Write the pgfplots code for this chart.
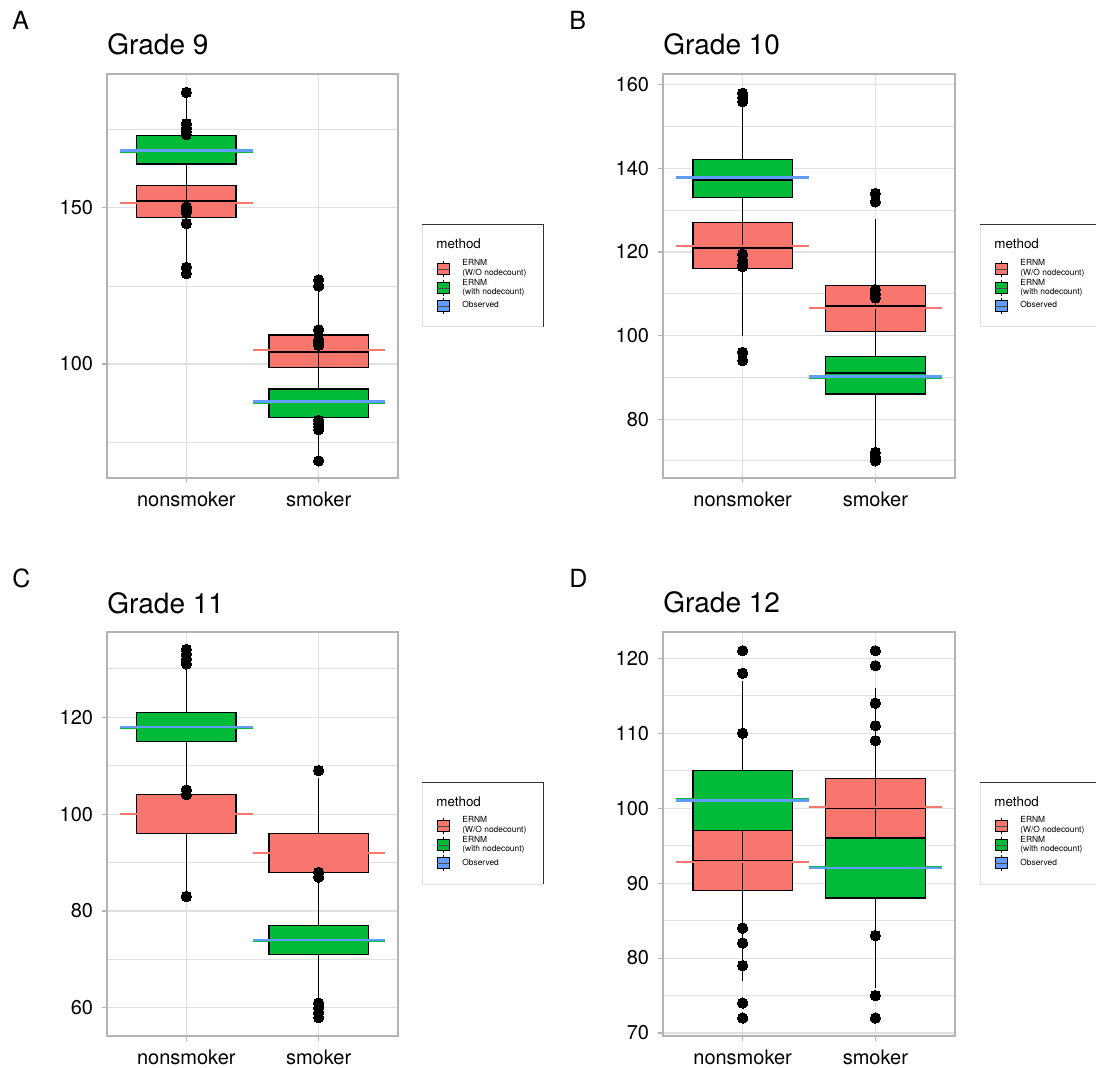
\documentclass[border=0pt]{standalone}
\usepackage{fontspec}
\setmainfont{TeX Gyre Heros}
\usepackage{pgfplots}
\pgfplotsset{compat=1.18}
\definecolor{ernmred}{HTML}{F8766D}
\definecolor{ernmgreen}{HTML}{00BA38}
\definecolor{obsblue}{HTML}{619CFF}
\definecolor{framec}{HTML}{B3B3B3}
\definecolor{gridc}{HTML}{E0E0E0}
\newcommand{\ticfont}{\fontsize{10}{12}\selectfont}
\newcommand{\titfont}{\fontsize{14}{16}\selectfont}
\newcommand{\tagfont}{\fontsize{12.5}{14}\selectfont}
\newcommand{\legtitfont}{\fontsize{6.7}{8}\selectfont}
\newcommand{\legfont}{\fontsize{4.2}{5}\selectfont}
\pgfplotsset{
  panel/.style={
    scale only axis, anchor=south west,
    xmin=0.4, xmax=2.6, xtick={1,2}, xticklabels={nonsmoker,smoker},
    axis line style={draw=framec, line width=0.55pt},
    tick style={draw=framec, line width=0.55pt},
    tick align=outside, tick pos=left, major tick length=2.5pt, minor tick length=0pt,
    grid=both,
    major grid style={draw=gridc, line width=0.55pt},
    minor grid style={draw=gridc, line width=0.4pt},
    /pgf/number format/assume math mode=true,
    ticklabel style={font=\ticfont, text=black},
    yticklabel style={anchor=east, inner sep=0pt, xshift=-4.3pt},
    xticklabel style={anchor=base, inner sep=0pt, yshift=-11.7pt},
    title style={at={(0,1)}, anchor=base west, yshift=3.5pt, inner sep=0pt, font=\titfont},
  },
  hl/.style={draw=#1, line width=0.9pt},
  hlb/.style={draw=obsblue, line width=1.35pt},
  outl/.style={only marks, mark=*, mark size=2.6pt, mark options={draw=black, fill=black, line width=0pt}},
}
% box: #1 colour, #2 position, #3 left, #4 right, #5 lower whisker, #6 Q1, #7 median, #8 Q3, #9 upper whisker
\newcommand{\bxp}[9]{%
  \addplot[black, line width=0.65pt] coordinates {(#2,#5) (#2,#6)};
  \addplot[black, line width=0.65pt] coordinates {(#2,#8) (#2,#9)};
  \addplot[draw=black, fill=#1, line width=0.65pt] coordinates {(#3,#6) (#4,#6) (#4,#8) (#3,#8)} -- cycle;
  \addplot[black, line width=0.95pt] coordinates {(#3,#7) (#4,#7)};}
\newcommand{\legkey}[2]{%
  \draw[black, line width=0.45pt] (21,#2-8.3) -- (21,#2+8.3);
  \draw[black, fill=#1, line width=0.45pt] (15,#2-5.8) rectangle (27,#2+5.8);
  \draw[black!70, line width=0.3pt] (15,#2) -- (27,#2);}
\newcommand{\methodlegend}[2]{%
  \begin{scope}[x=0.5pt, y=-0.5pt, yshift=533.5pt]
  \begin{scope}[shift={(#1,#2)}]
    \draw[gray!25, line width=0.5pt] (0,0) rectangle (121,102);
    \draw[gray!40!black, line width=0.5pt] (0,0) -- (121,0) -- (121,102);
    \node[anchor=base west, inner sep=0pt, font=\legtitfont] at (14,24) {method};
    \legkey{ernmred}{44}
    \legkey{ernmgreen}{63}
    \legkey{obsblue}{81}
    \node[anchor=base west, inner sep=0pt, font=\legfont] at (40,40.7) {ERNM};
    \node[anchor=base west, inner sep=0pt, font=\legfont] at (40,50.3) {(W/O nodecount)};
    \node[anchor=base west, inner sep=0pt, font=\legfont] at (40,60.3) {ERNM};
    \node[anchor=base west, inner sep=0pt, font=\legfont] at (40,69.3) {(with nodecount)};
    \node[anchor=base west, inner sep=0pt, font=\legfont] at (40,83) {Observed};
  \end{scope}
  \end{scope}}
\begin{document}
\begin{tikzpicture}
\path[use as bounding box] (0,0) rectangle (548pt,533.5pt);
% ---------------- A
\begin{axis}[panel, at={(53.5pt,294.5pt)}, width=145.5pt, height=202pt,
  ymin=63.5, ymax=192.9, ytick={100,150}, minor ytick={75,125,175}, title={Grade 9}]
\addplot[outl] coordinates {(1,173.5) (1,174.5) (1,175.5) (1,177) (1,131) (1,129)};
\bxp{ernmred}{1}{0.625}{1.375}{132}{146.9}{152.2}{157.1}{172}
\addplot[outl] coordinates {(1,187) (1,150.3) (1,149.3) (1,148.5) (1,145)};
\bxp{ernmgreen}{1}{0.625}{1.375}{151}{164.1}{168.5}{173.1}{185.5}
\addplot[outl] coordinates {(2,125) (2,127) (2,82) (2,81) (2,80) (2,79)};
\bxp{ernmred}{2}{1.625}{2.375}{84}{99}{103.8}{109.3}{123.5}
\addplot[outl] coordinates {(2,106) (2,107) (2,107.7) (2,111) (2,69)};
\bxp{ernmgreen}{2}{1.625}{2.375}{70}{82.9}{88}{92}{105.5}
\addplot[hl=ernmred] coordinates {(0.5,151.6) (1.5,151.6)};
\addplot[hl=ernmgreen] coordinates {(0.5,168.0) (1.5,168.0)};
\addplot[hlb] coordinates {(0.5,168.4) (1.5,168.4)};
\addplot[hl=ernmred] coordinates {(1.5,104.6) (2.5,104.6)};
\addplot[hl=ernmgreen] coordinates {(1.5,87.6) (2.5,87.6)};
\addplot[hlb] coordinates {(1.5,87.9) (2.5,87.9)};
\end{axis}
% ---------------- B
\begin{axis}[panel, at={(331.5pt,294.5pt)}, width=146pt, height=202pt,
  ymin=65.9, ymax=162.6, ytick={80,100,120,140,160}, minor ytick={70,90,110,130,150}, title={Grade 10}]
\addplot[outl] coordinates {(1,96) (1,94)};
\bxp{ernmred}{1}{0.625}{1.375}{100}{116}{120.9}{127.1}{143}
\addplot[outl] coordinates {(1,156) (1,157) (1,158) (1,119.5) (1,118) (1,117) (1,116.5)};
\bxp{ernmgreen}{1}{0.625}{1.375}{120}{133.1}{137.2}{142.1}{155.6}
\addplot[outl] coordinates {(2,132) (2,134)};
\bxp{ernmred}{2}{1.625}{2.375}{85}{101}{107.1}{112}{128}
\addplot[outl] coordinates {(2,109) (2,110) (2,111) (2,72) (2,71) (2,70.5) (2,70)};
\bxp{ernmgreen}{2}{1.625}{2.375}{73}{86}{91}{95}{108.3}
\addplot[hl=ernmred] coordinates {(0.5,121.4) (1.5,121.4)};
\addplot[hl=ernmgreen] coordinates {(0.5,137.6) (1.5,137.6)};
\addplot[hlb] coordinates {(0.5,137.9) (1.5,137.9)};
\addplot[hl=ernmred] coordinates {(1.5,106.6) (2.5,106.6)};
\addplot[hl=ernmgreen] coordinates {(1.5,89.9) (2.5,89.9)};
\addplot[hlb] coordinates {(1.5,90.2) (2.5,90.2)};
\end{axis}
% ---------------- C
\begin{axis}[panel, at={(53.5pt,15.5pt)}, width=145.5pt, height=202pt,
  ymin=54.2, ymax=137.6, ytick={60,80,100,120}, minor ytick={70,90,110,130}, title={Grade 11}]
\addplot[outl] coordinates {(1,83)};
\bxp{ernmred}{1}{0.625}{1.375}{84}{96}{100}{104}{116}
\addplot[outl] coordinates {(1,131) (1,132) (1,133) (1,134) (1,105) (1,104)};
\bxp{ernmgreen}{1}{0.625}{1.375}{106}{115}{118}{121}{130.3}
\addplot[outl] coordinates {(2,109)};
\bxp{ernmred}{2}{1.625}{2.375}{77}{88}{92}{96}{107.5}
\addplot[outl] coordinates {(2,87) (2,88) (2,61) (2,60) (2,59) (2,58)};
\bxp{ernmgreen}{2}{1.625}{2.375}{62}{71}{74}{77}{86}
\addplot[hl=ernmred] coordinates {(0.5,100) (1.5,100)};
\addplot[hl=ernmgreen] coordinates {(0.5,117.85) (1.5,117.85)};
\addplot[hlb] coordinates {(0.5,118) (1.5,118)};
\addplot[hl=ernmred] coordinates {(1.5,92) (2.5,92)};
\addplot[hl=ernmgreen] coordinates {(1.5,73.85) (2.5,73.85)};
\addplot[hlb] coordinates {(1.5,74) (2.5,74)};
\end{axis}
% ---------------- D
\begin{axis}[panel, at={(331.5pt,15.5pt)}, width=146pt, height=202pt,
  ymin=69.6, ymax=123.5, ytick={70,80,90,100,110,120}, minor ytick={75,85,95,105,115}, title={Grade 12}]
\addplot[outl] coordinates {(1,110) (1,74) (1,72)};
\bxp{ernmred}{1}{0.625}{1.375}{77}{89}{93}{97}{109}
\addplot[outl] coordinates {(1,118) (1,121) (1,84) (1,82) (1,79)};
\bxp{ernmgreen}{1}{0.625}{1.375}{85}{97}{101}{105}{117}
\addplot[outl] coordinates {(2,119) (2,121) (2,83)};
\bxp{ernmred}{2}{1.625}{2.375}{84}{96}{100}{104}{116}
\addplot[outl] coordinates {(2,109) (2,111) (2,114) (2,75) (2,72)};
\bxp{ernmgreen}{2}{1.625}{2.375}{76}{88}{92}{96}{108}
\addplot[hl=ernmred] coordinates {(0.5,92.8) (1.5,92.8)};
\addplot[hl=ernmgreen] coordinates {(0.5,101.2) (1.5,101.2)};
\addplot[hlb] coordinates {(0.5,101.05) (1.5,101.05)};
\addplot[hl=ernmred] coordinates {(1.5,100.2) (2.5,100.2)};
\addplot[hl=ernmgreen] coordinates {(1.5,92.1) (2.5,92.1)};
\addplot[hlb] coordinates {(1.5,92.0) (2.5,92.0)};
\end{axis}
% ---------------- tags and legends
\begin{scope}[x=0.5pt, y=-0.5pt, yshift=533.5pt]
\node[anchor=base west, inner sep=0pt, font=\tagfont] at (12,30) {A};
\node[anchor=base west, inner sep=0pt, font=\tagfont] at (569,30) {B};
\node[anchor=base west, inner sep=0pt, font=\tagfont] at (12,587) {C};
\node[anchor=base west, inner sep=0pt, font=\tagfont] at (569,587) {D};
\end{scope}
\methodlegend{422}{225}
\methodlegend{980}{225}
\methodlegend{422}{782}
\methodlegend{980}{782}
\end{tikzpicture}
\end{document}
